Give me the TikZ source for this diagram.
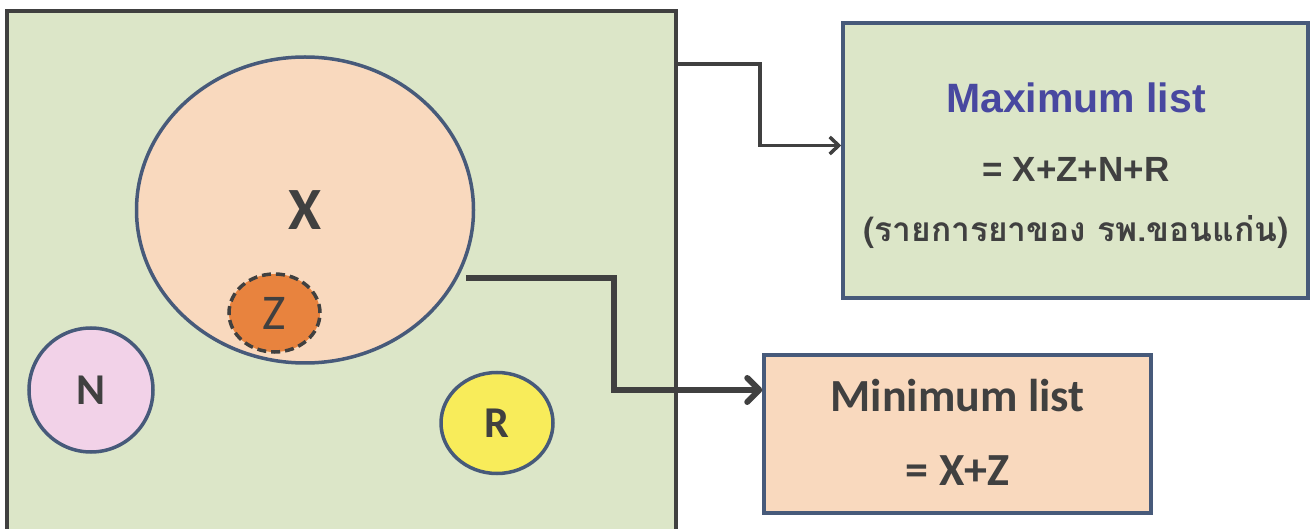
\documentclass[tikz,border=0pt]{standalone}
\usepackage{fontspec}
\setmainfont{Liberation Sans}
\newfontfamily\calibri{Carlito}
\newfontfamily\thaifont[Script=Thai]{Loma}
\usetikzlibrary{positioning,calc,arrows.meta,shapes.geometric}

\definecolor{panelgreen}{HTML}{DCE6C8}
\definecolor{peach}{HTML}{F9D9BE}
\definecolor{zorange}{HTML}{E8833E}
\definecolor{npink}{HTML}{F2D2E8}
\definecolor{ryellow}{HTML}{F8EC5A}
\definecolor{setblue}{HTML}{475A7A}
\definecolor{textgray}{HTML}{404040}
\definecolor{maxblue}{HTML}{4848A0}

\tikzset{
  setnode/.style={ellipse, draw=setblue, line width=3.5pt, inner sep=0pt, text=textgray},
  listbox/.style={rectangle, draw=setblue, line width=3.5pt, inner sep=0pt},
  link/.style={draw=textgray, line width=3.5pt},
}

\begin{document}
\begin{tikzpicture}[x=1pt,y=-1pt]
            \useasboundingbox (0,0) rectangle (1310,529);
            % All drugs
            \node[rectangle, draw=textgray, line width=3.5pt, fill=panelgreen, minimum width=669pt, minimum height=532pt] (panel) at (341.5,277) {};
            % Sets
            \node[setnode, fill=peach, minimum width=337pt, minimum height=306pt] (X) at (305,210) {\calibri\bfseries\fontsize{60}{60}\selectfont X};
            \node[setnode, fill=zorange, draw=textgray, dash pattern=on 9pt off 5pt, minimum width=91pt, minimum height=78pt] (Z) at (274.5,313) {\calibri\fontsize{50}{50}\selectfont Z};
            \node[setnode, fill=npink, minimum width=124pt, minimum height=124pt] (N) at (91,390) {\calibri\bfseries\fontsize{44}{44}\selectfont N};
            \node[setnode, fill=ryellow, minimum width=112pt, minimum height=101pt] (R) at (497,423) {\calibri\bfseries\fontsize{44}{44}\selectfont R};
            % Maximum list
            \node[listbox, fill=panelgreen, minimum width=465pt, minimum height=275pt] (maxbox) at (1075.5,160.5) {};
            \node[anchor=base, text=maxblue, font=\bfseries\fontsize{41}{41}\selectfont] (maxtitle) at (1076,113) {Maximum list};
            \node[anchor=base, text=textgray, font=\bfseries\fontsize{35}{35}\selectfont] (maxsum) at (1076,182) {= X+Z+N+R};
            \node[anchor=base, text=textgray, font=\thaifont\bfseries\fontsize{33.5}{33.5}\selectfont] (maxnote) at (1076,242) {(รายการยาของ รพ.ขอนแก่น)};
            % Minimum list
            \node[listbox, fill=peach, minimum width=387pt, minimum height=158pt] (minbox) at (957.5,434) {};
            \node[anchor=base, text=textgray, font=\calibri\bfseries\fontsize{46}{46}\selectfont] (mintitle) at (957.5,411) {Minimum list};
            \node[anchor=base, text=textgray, font=\calibri\bfseries\fontsize{46}{46}\selectfont] (minsum) at (957.5,485) {= X+Z};

            \draw[link, -{Straight Barb[length=9pt,width=17pt]}] ([yshift=-55pt]panel.north east) -- ++(82,0) |- ([yshift=15pt]maxbox.west);
            \draw[link, line width=6pt, shorten <=8pt, -{Straight Barb[length=12pt,width=24pt,round]}] (X.-24) -- ++(156,0) |- ([yshift=44pt]minbox.west);

        \end{tikzpicture}
\end{document}
